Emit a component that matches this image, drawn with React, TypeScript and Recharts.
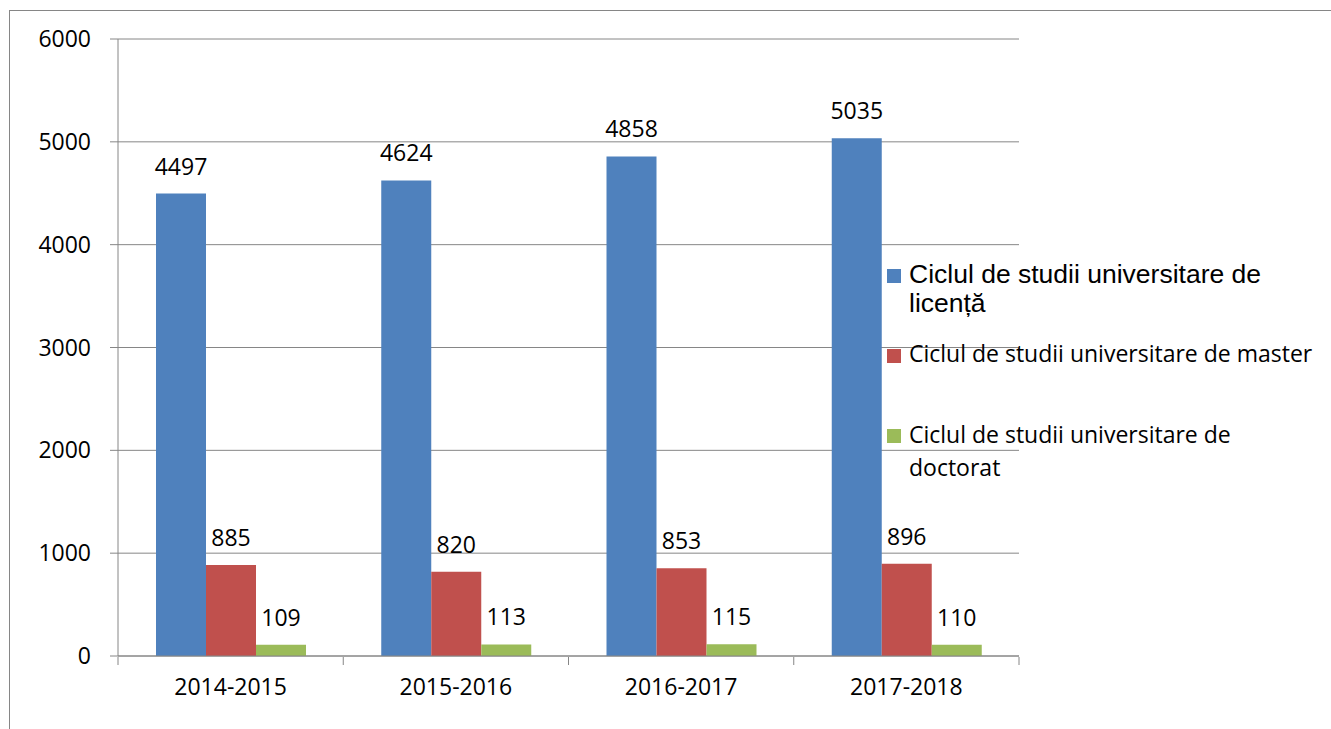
import { BarChart, Bar, XAxis, YAxis, CartesianGrid, Legend, LabelList } from 'recharts';

const categories = ['2014-2015', '2015-2016', '2016-2017', '2017-2018'];
const licenta = [4497, 4624, 4858, 5035];
const master = [885, 820, 853, 896];
const doctorat = [109, 113, 115, 110];
const seriesNames = [
  'Ciclul de studii universitare de\nlicență',
  'Ciclul de studii universitare de master',
  'Ciclul de studii universitare de\ndoctorat',
];
const yTicks = [0, 1000, 2000, 3000, 4000, 5000, 6000];
const edgeTicks = [0, 1, 2, 3, 4];

const COLORS = ['#4F81BD', '#C0504D', '#9BBB59'];
const GRID = '#868686';
const FONT = '"Open Sans", "Noto Sans", sans-serif';

const data = categories.map((cat, i) => ({
  cat,
  edge: i,
  licenta: licenta[i],
  master: master[i],
  doctorat: doctorat[i],
}));

// per-item legend look: first entry is in an Arial-like face, the rest Calibri-like
const legendStyles = [
  { font: '"Liberation Sans", Arial, sans-serif', size: 26.5, lineHeight: 29, top: 0, square: 9 },
  { font: FONT, size: 23, lineHeight: 33, top: 19, square: 12 },
  { font: FONT, size: 23, lineHeight: 33, top: 48, square: 11 },
];

const LegendContent = ({ payload }: { payload?: { value: string; color: string }[] }) => {
  if (!payload) return null;
  const items = [...payload].sort((a, b) => seriesNames.indexOf(a.value) - seriesNames.indexOf(b.value));
  return (
    <div>
      {items.map((entry, i) => {
        const s = legendStyles[i];
        return (
          <div key={i} style={{ display: 'flex', alignItems: 'flex-start', marginTop: s.top }}>
            <div style={{ width: 14, height: 14, background: entry.color, marginTop: s.square, flexShrink: 0 }} />
            <div
              style={{
                marginLeft: 8,
                fontFamily: s.font,
                fontSize: s.size,
                lineHeight: `${s.lineHeight}px`,
                color: '#000',
                whiteSpace: 'pre-line',
              }}
            >
              {entry.value}
            </div>
          </div>
        );
      })}
    </div>
  );
};

const labelStyle = { fill: '#000', fontFamily: FONT, fontSize: 23 };

export default function App() {
  return (
    <div style={{ position: 'absolute', left: 0, top: 0, width: 1331, height: 729, background: '#fff', overflow: 'hidden' }}>
      <div
        style={{
          position: 'absolute', left: 9, top: 10, width: 1400, height: 800,
          borderLeft: `1px solid ${GRID}`, borderTop: `1px solid ${GRID}`,
        }}
      />
      <div style={{ position: 'absolute', left: 0, top: 0 }}>
        <BarChart
          width={1331}
          height={729}
          data={data}
          margin={{ top: 39, right: 312, bottom: 71, left: 0 }}
          barSize={50}
          barGap={0}
        >
          <CartesianGrid vertical={false} stroke={GRID} strokeWidth={1} />
          <XAxis
            xAxisId="edges"
            dataKey="edge"
            type="number"
            domain={[0, 4]}
            ticks={edgeTicks}
            tickFormatter={() => ''}
            axisLine={false}
            tickLine={{ stroke: GRID }}
            tickSize={8}
            height={1}
            interval={0}
          />
          <XAxis
            xAxisId="cat"
            dataKey="cat"
            axisLine={{ stroke: GRID }}
            tickLine={false}
            tickSize={0}
            tickMargin={23}
            height={1}
            interval={0}
            tick={labelStyle}
          />
          <YAxis
            domain={[0, 6000]}
            ticks={yTicks}
            width={118}
            axisLine={{ stroke: GRID }}
            tickLine={{ stroke: GRID }}
            tickSize={8}
            tickMargin={19}
            tick={labelStyle}
            interval={0}
          />
          <Legend
            layout="vertical"
            align="center"
            verticalAlign="middle"
            content={<LegendContent />}
            wrapperStyle={{ left: 887, top: 260, width: 440 }}
          />
          <Bar xAxisId="cat" dataKey="licenta" name={seriesNames[0]} fill={COLORS[0]} isAnimationActive={false}>
            <LabelList dataKey="licenta" position="top" offset={19} style={labelStyle} />
          </Bar>
          <Bar xAxisId="cat" dataKey="master" name={seriesNames[1]} fill={COLORS[1]} isAnimationActive={false}>
            <LabelList dataKey="master" position="top" offset={19} style={labelStyle} />
          </Bar>
          <Bar xAxisId="cat" dataKey="doctorat" name={seriesNames[2]} fill={COLORS[2]} isAnimationActive={false}>
            <LabelList dataKey="doctorat" position="top" offset={19} style={labelStyle} />
          </Bar>
        </BarChart>
      </div>
    </div>
  );
}
